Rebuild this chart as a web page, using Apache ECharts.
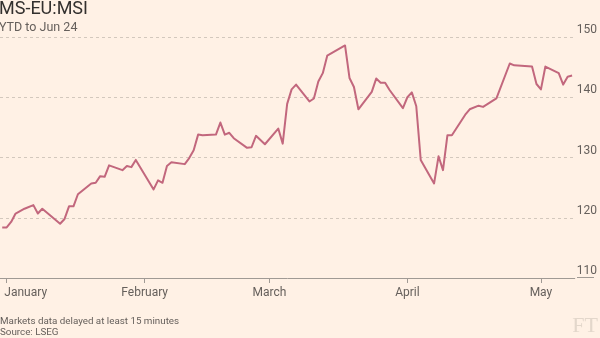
<!DOCTYPE html>
<html>
<head>
<meta charset="utf-8">
<title>MS-EU:MSI</title>
<script src="https://cdn.jsdelivr.net/npm/echarts@6/dist/echarts.min.js"></script>
<style>
html, body { margin: 0; padding: 0; background: #fff1e5; }
#chart { width: 600px; height: 338px; }
</style>
</head>
<body>
<div id="chart"></div>
<script>
// values (daily closes, YTD)
const dates = [
  '2024-12-31', '2025-01-01', '2025-01-02', '2025-01-03', '2025-01-05', '2025-01-07', '2025-01-08', '2025-01-09',
  '2025-01-13', '2025-01-14', '2025-01-15', '2025-01-16', '2025-01-17', '2025-01-20', '2025-01-21', '2025-01-22',
  '2025-01-23', '2025-01-24', '2025-01-27', '2025-01-28', '2025-01-29', '2025-01-30', '2025-02-03', '2025-02-04',
  '2025-02-05', '2025-02-06', '2025-02-07', '2025-02-10', '2025-02-11', '2025-02-12', '2025-02-13', '2025-02-14',
  '2025-02-17', '2025-02-18', '2025-02-19', '2025-02-20', '2025-02-21', '2025-02-24', '2025-02-25', '2025-02-26',
  '2025-02-28', '2025-03-03', '2025-03-04', '2025-03-05', '2025-03-06', '2025-03-07', '2025-03-10', '2025-03-11',
  '2025-03-12', '2025-03-13', '2025-03-14', '2025-03-18', '2025-03-19', '2025-03-20', '2025-03-21', '2025-03-24',
  '2025-03-25', '2025-03-26', '2025-03-27', '2025-03-28', '2025-03-31', '2025-04-01', '2025-04-02', '2025-04-03',
  '2025-04-04', '2025-04-07', '2025-04-08', '2025-04-09', '2025-04-10', '2025-04-11', '2025-04-14', '2025-04-15',
  '2025-04-17', '2025-04-18', '2025-04-21', '2025-04-24', '2025-04-25', '2025-04-29', '2025-04-30', '2025-05-01',
  '2025-05-02', '2025-05-05', '2025-05-06', '2025-05-07', '2025-05-08'
]
const values = [
  118.4, 118.4, 119.3, 120.7, 121.5, 122.1, 120.7, 121.5,
  119.0, 119.8, 121.9, 121.9, 123.9, 125.7, 125.8, 126.9,
  126.8, 128.7, 127.9, 128.6, 128.4, 129.6, 124.7, 126.2,
  125.8, 128.6, 129.2, 128.9, 129.9, 131.2, 133.8, 133.7,
  133.8, 135.8, 133.8, 134.1, 133.2, 131.6, 131.7, 133.6,
  132.2, 134.8, 132.3, 138.9, 141.3, 142.1, 139.3, 139.8,
  142.6, 144.0, 146.9, 148.6, 143.2, 141.7, 138.0, 140.9,
  143.1, 142.4, 142.4, 141.2, 138.2, 140.0, 140.8, 138.5,
  129.6, 125.7, 130.2, 127.9, 133.7, 133.7, 137.1, 138.0,
  138.6, 138.4, 139.8, 145.6, 145.3, 145.1, 142.2, 141.3,
  145.1, 144.0, 142.1, 143.4, 143.6
]
const monthTicks = ['2025-01-01', '2025-02-01', '2025-03-01', '2025-04-01', '2025-05-01']
const monthNames = ['January', 'February', 'March', 'April', 'May']
const yTicks = [110, 120, 130, 140, 150]

// x axis counts days from 1 January
const DAY = 86400000
function toDay (s) {
  const p = s.split('-')
  return Math.round((Date.UTC(+p[0], +p[1] - 1, +p[2]) - Date.UTC(2025, 0, 1)) / DAY)
}
const monthDays = monthTicks.map(toDay)

var myChart = echarts.init(document.getElementById('chart'))
myChart.setOption({
  backgroundColor: '#fff1e5',
  animation: false,
  textStyle: { fontFamily: 'Roboto' },
  title: [
    {
      text: 'MS-EU:MSI',
      subtext: 'YTD to Jun 24',
      left: -1,
      top: 0,
      padding: 0,
      itemGap: 3,
      textStyle: { color: '#33302e', fontSize: 18, fontWeight: 'normal', fontFamily: 'Roboto' },
      subtextStyle: { color: '#66605c', fontSize: 12.5, fontFamily: 'Roboto' }
    },
    {
      text: 'Markets data delayed at least 15 minutes\nSource: LSEG',
      left: 0,
      top: 316.5,
      padding: 0,
      textStyle: { color: '#66605c', fontSize: 9.8, lineHeight: 10.5, fontWeight: 'normal', fontFamily: 'Roboto' }
    }
  ],
  graphic: [
    {
      type: 'text',
      right: 2,
      bottom: 1,
      style: { text: 'FT', fill: '#e3d7cb', font: '22px "Liberation Serif"' }
    },
    {
      // axis line runs on a little past the plot under the 110 label
      type: 'line',
      shape: { x1: 577, y1: 277.5, x2: 594, y2: 277.5 },
      style: { stroke: '#a09a94', lineWidth: 1 }
    }
  ],
  grid: { left: 0, right: 23, top: 37, bottom: 60, containLabel: false },
  xAxis: {
    type: 'value',
    min: -1.5,
    max: 127.6,
    axisLine: { lineStyle: { color: '#a09a94', width: 1 } },
    axisTick: { show: true, length: 5, lineStyle: { color: '#a09a94' }, customValues: monthDays },
    splitLine: { show: false },
    axisLabel: {
      customValues: monthDays,
      margin: 9,
      color: '#66605c',
      fontSize: 12,
      fontFamily: 'Roboto',
      formatter: function (val) {
        const m = monthDays.indexOf(val)
        return m === 0 ? '{first|' + monthNames[0] + '}' : monthNames[m]
      },
      rich: {
        first: { padding: [0, 0, 0, 38], color: '#66605c', fontSize: 12, fontFamily: 'Roboto' }
      }
    }
  },
  yAxis: {
    type: 'value',
    position: 'right',
    min: yTicks[0],
    max: yTicks[yTicks.length - 1],
    interval: 10,
    axisLine: { show: false },
    axisTick: { show: false },
    splitLine: { lineStyle: { color: '#d3c8bd', type: [3, 3], width: 1 } },
    axisLabel: {
      margin: 2,
      align: 'left',
      verticalAlign: 'bottom',
      color: '#66605c',
      fontSize: 12,
      fontFamily: 'Roboto',
      padding: [0, 0, 1, 0]
    }
  },
  series: [
    {
      type: 'line',
      data: dates.map((d, i) => [toDay(d), values[i]]),
      symbol: 'none',
      lineStyle: { color: '#c2677d', width: 2, join: 'round' }
    }
  ]
})
</script>
</body>
</html>
